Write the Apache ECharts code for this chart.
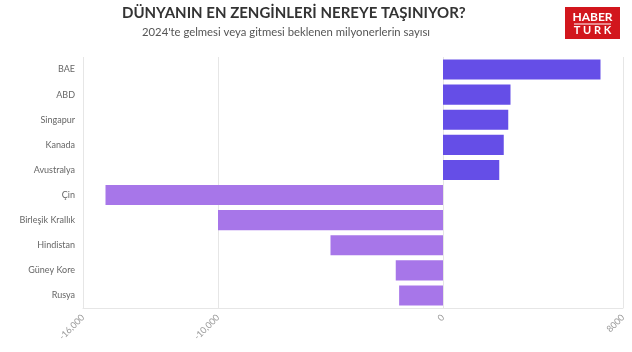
<!DOCTYPE html>
<html>
<head>
<meta charset="utf-8">
<script src="https://cdn.jsdelivr.net/npm/echarts@6/dist/echarts.min.js"></script>
<style>
  html, body { margin: 0; padding: 0; background: #fff; }
  #chart { width: 632px; height: 352px; }
</style>
</head>
<body>
<div id="chart"></div>
<script>
// values (expected net millionaire inflow/outflow, 2024)
const countries = ['BAE', 'ABD', 'Singapur', 'Kanada', 'Avustralya', 'Çin', 'Birleşik Krallık', 'Hindistan', 'Güney Kore', 'Rusya'];
const values = [7000, 3000, 2900, 2700, 2500, -15000, -10000, -5000, -2100, -1950];
const xTicks = [-16000, -10000, 0, 8000];
const xTickLabels = ['-16,000', '-10,000', '0', '8000'];

const FONT = 'Lato, "Noto Sans", sans-serif';
const POS = '#654ee7';
const NEG = '#a776e9';
const GRID = '#e6e6e6';

const chart = echarts.init(document.getElementById('chart'));

chart.setOption({
  animation: false,
  textStyle: { fontFamily: FONT },
  grid: { left: 83, right: 9, top: 57, bottom: 44 },
  xAxis: {
    type: 'value',
    min: -16000,
    max: 8000,
    interval: 2000,
    axisLine: { show: true, lineStyle: { color: GRID } },
    axisTick: { show: false, customValues: xTicks },
    axisLabel: {
      customValues: xTicks,
      rotate: 45,
      color: '#999',
      fontSize: 9,
      margin: 8,
      formatter: (v) => xTickLabels[xTicks.indexOf(v)],
    },
    splitLine: { show: true, lineStyle: { color: GRID } },
  },
  yAxis: {
    type: 'category',
    inverse: true,
    data: countries,
    axisLine: { show: false, onZero: false },
    axisTick: { show: false },
    axisLabel: { color: '#666', fontSize: 9, margin: 8 },
  },
  series: [
    {
      type: 'bar',
      barCategoryGap: '20%',
      data: values.map((v) => ({ value: v, itemStyle: { color: v >= 0 ? POS : NEG } })),
    },
  ],
  graphic: [
    {
      type: 'text',
      left: 292 - 170,
      top: 6,
      style: {
        text: 'DÜNYANIN EN ZENGİNLERİ NEREYE TAŞINIYOR?',
        font: 'bold 15px ' + FONT,
        fill: '#333',
        width: 340,
        align: 'center',
      },
    },
    {
      type: 'text',
      left: 292 - 150,
      top: 27,
      style: {
        text: "2024'te gelmesi veya gitmesi beklenen milyonerlerin sayısı",
        font: '11.3px ' + FONT,
        fill: '#555',
        width: 300,
        align: 'center',
      },
    },
    // haberturk logo
    {
      type: 'group',
      left: 565,
      top: 7,
      children: [
        { type: 'rect', shape: { x: 0, y: 0, width: 55, height: 32 }, style: { fill: '#d2161d' } },
        {
          type: 'text',
          style: { x: 27.5, y: 4, text: 'HABER', font: 'bold 12px ' + FONT, fill: '#fff', align: 'center' },
        },
        { type: 'line', shape: { x1: 9, y1: 17, x2: 46, y2: 17 }, style: { stroke: '#fff', lineWidth: 1 } },
        {
          type: 'text',
          style: { x: 27.5, y: 18, text: 'T U R K', font: 'bold 11px ' + FONT, fill: '#fff', align: 'center' },
        },
      ],
    },
  ],
});
</script>
</body>
</html>
